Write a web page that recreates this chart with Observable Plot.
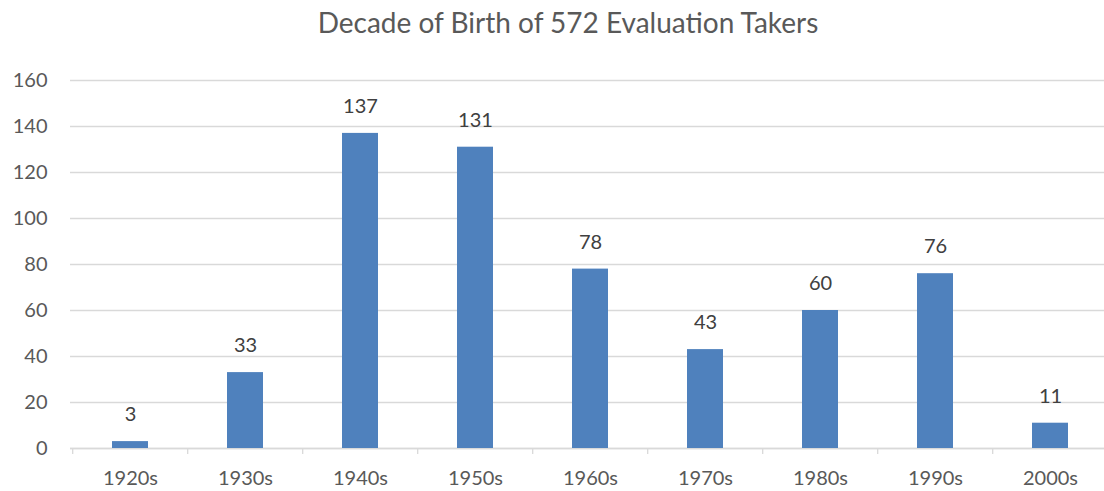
<!DOCTYPE html>
<html>
<head>
<meta charset="utf-8">
<script src="https://cdn.jsdelivr.net/npm/d3@7"></script>
<script src="https://cdn.jsdelivr.net/npm/@observablehq/plot@0.6"></script>
<style>
  html, body { margin: 0; padding: 0; background: #fff; overflow: hidden; }
  #title {
    height: 50px; width: 1104px; box-sizing: border-box; padding-left: 32px;
    text-align: center; font-family: Lato, sans-serif; font-size: 28px; color: #595959;
    line-height: 44px; white-space: nowrap;
  }
</style>
</head>
<body>
<div id="title">Decade of Birth of 572 Evaluation Takers</div>
<div id="chart"></div>
<script>
const decades = ["1920s", "1930s", "1940s", "1950s", "1960s", "1970s", "1980s", "1990s", "2000s"];
const counts = [3, 33, 137, 131, 78, 43, 60, 76, 11];
const yTicks = [0, 20, 40, 60, 80, 100, 120, 140, 160];

const data = decades.map((d, i) => ({decade: d, count: counts[i]}));
const x0 = 70, x1 = 1110.4;
const step = (x1 - x0) / decades.length;

const chart = Plot.plot({
  width: 1104,
  height: 441,
  marginLeft: 70,
  marginRight: 0,
  marginTop: 30,
  marginBottom: 43,
  style: {fontFamily: "Lato, sans-serif", fontSize: "20px", color: "#595959", background: "#fff"},
  x: {domain: decades, range: [x0, x1], paddingInner: 0.69, paddingOuter: 0.345, label: null},
  y: {domain: [0, 160], label: null},
  marks: [
    Plot.gridY(yTicks, {stroke: "#d9d9d9", strokeOpacity: 1, strokeWidth: 1.3}),
    Plot.ruleY([0], {stroke: "#d9d9d9", strokeWidth: 1.3}),
    Plot.ruleX(decades, {x: d => d, y1: 0, y2: 0, dx: -step / 2, insetBottom: -6, stroke: "#d9d9d9", strokeWidth: 1.3}),
    Plot.barY(data, {x: "decade", y: "count", fill: "#4f81bd"}),
    Plot.text(data, {x: "decade", y: "count", text: d => String(d.count), lineAnchor: "bottom", dy: -20.5, fill: "#404040", fontSize: 20}),
    Plot.axisY({ticks: yTicks, tickSize: 0, tickPadding: 23, fontSize: 20}),
    Plot.axisX({tickSize: 0, tickPadding: 22, fontSize: 20})
  ]
});
document.getElementById("chart").appendChild(chart);
</script>
</body>
</html>
